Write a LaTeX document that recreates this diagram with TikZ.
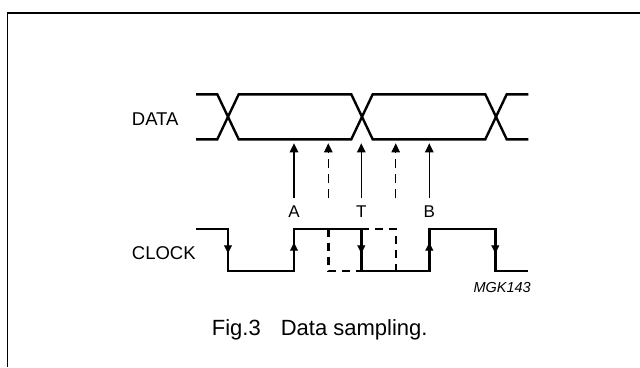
\documentclass[tikz,border=0pt]{standalone}
\usepackage{fontspec}
\setmainfont{Liberation Sans}
\usetikzlibrary{arrows.meta}
\begin{document}
\begin{tikzpicture}[x=1pt,y=-1pt,
	wave/.style={line width=2.4pt},
	sample/.style={line width=1.1pt,-{Triangle[width=8.5pt,length=9pt]}},
	edge/.style={line width=0.1pt,-{Triangle[width=8pt,length=8pt]}},
	dashline/.style={wave,dash pattern=on 8pt off 6pt},
	label/.style={inner sep=0,font=\fontsize{18.5}{18.5}\selectfont}]
\useasboundingbox (0,0) rectangle (640,367);
% frame
\draw[line width=1.7pt] (640,13) -- (7.5,13) -- (7.5,367);
% data lines
\draw[wave] (196,94.3) -- (217.3,94.3) -- (238.7,139.3) -- (351.3,139.3) -- (372.7,94.3)
	-- (485.3,94.3) -- (506.7,139.3) -- (528.3,139.3);
\draw[wave] (196,139.3) -- (217.3,139.3) -- (238.7,94.3) -- (351.3,94.3) -- (372.7,139.3)
	-- (485.3,139.3) -- (506.7,94.3) -- (528.3,94.3);
% clock
\draw[wave] (196,228.7) -| (228,271) -| (294,228.7) -| (361.3,271) -| (429.3,228.7)
	-| (495.3,271) -- (528.3,271);
\draw[dashline] (328.3,228.7) -- (328.3,271) -- (361.3,271);
\draw[dashline] (361.3,228.7) -- (395.7,228.7) -- (395.7,271);
\foreach \x in {228,361.3,495.3}
	\draw[edge] (\x,240) -- (\x,253.3);
\foreach \x in {294,429.3}
	\draw[edge] (\x,256) -- (\x,242.7);
% sampling points
\foreach \n/\x in {a/294,t/361.3,b/429.3}{
	\coordinate (\n0) at (\x,198.3);
	\coordinate (\n1) at (\x,143.3);
	\draw[sample] (\n0) -- (\n1);
}
\foreach \n/\x in {p/328.3,q/395.7}{
	\coordinate (\n0) at (\x,198.3);
	\coordinate (\n1) at (\x,143.3);
	\draw[sample,dash pattern=on 9pt off 6pt] (\n0) -- (\n1);
}
% texts
\node[label,anchor=base west] (data) at (131.7,125) {DATA};
\node[label,anchor=base west] (clock) at (131.7,259.3) {CLOCK};
\node[label,anchor=base,font=\fontsize{17}{17}\selectfont] (la) at (294,217.7) {A};
\node[label,anchor=base,font=\fontsize{17}{17}\selectfont] (lt) at (361.3,217.7) {T};
\node[label,anchor=base,font=\fontsize{17}{17}\selectfont] (lb) at (429.3,217.7) {B};
\node[label,anchor=base east,font=\fontsize{14.5}{14.5}\selectfont\itshape] (code) at (531,292.3) {MGK143};
\node[label,anchor=base west,font=\fontsize{22}{22}\selectfont] (caption) at (211.7,335.7)
	{Fig.3\hspace{20pt}Data sampling.};
\end{tikzpicture}
\end{document}
